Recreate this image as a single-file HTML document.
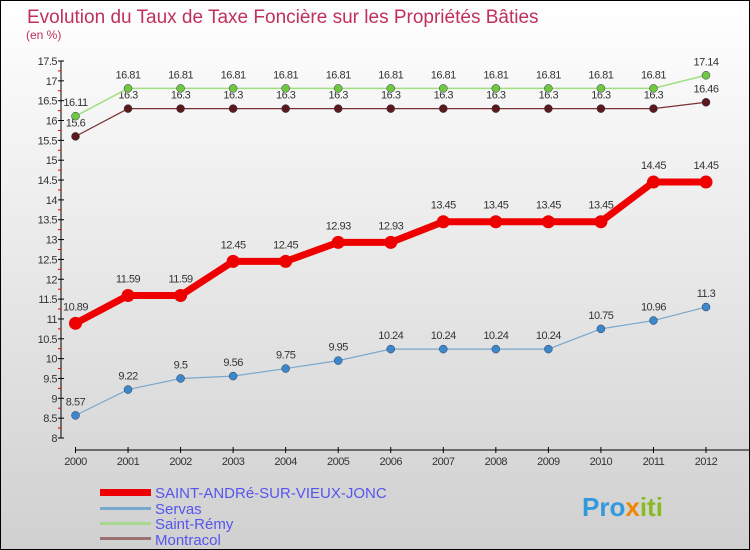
<!DOCTYPE html>
<html><head><meta charset="utf-8"><style>
body{margin:0;}
svg{display:block;font-family:"Liberation Sans",sans-serif;}
</style></head><body>
<svg id="c" width="750" height="550" xmlns="http://www.w3.org/2000/svg">
<defs><linearGradient id="bg" x1="0" y1="0" x2="0" y2="1"><stop offset="0" stop-color="#ffffff"/><stop offset="1" stop-color="#d0d0d0"/></linearGradient></defs>
<rect x="0.5" y="0.5" width="749" height="549" fill="url(#bg)" stroke="#000"/>
<text x="27" y="23" font-size="19" fill="#c0305a">Evolution du Taux de Taxe Foncière sur les Propriétés Bâties</text>
<text x="26" y="39" font-size="12" fill="#c0305a">(en %)</text>
<g id="axes"></g><g id="series"></g>
<g>
<rect x="100" y="489" width="51" height="7" fill="#ee0000"/>
<text x="155" y="498" font-size="15" fill="#5555ee">SAINT-ANDRé-SUR-VIEUX-JONC</text>
<rect x="100" y="507" width="51" height="3" fill="#78a8cc"/>
<text x="155" y="514" font-size="15" fill="#5555ee">Servas</text>
<rect x="100" y="522" width="51" height="3" fill="#a8d890"/>
<text x="155" y="529" font-size="15" fill="#5555ee">Saint-Rémy</text>
<rect x="100" y="537" width="51" height="3" fill="#9a7070"/>
<text x="155" y="545" font-size="15" fill="#5555ee">Montracol</text>
</g>
<text x="582" y="516" font-size="26" font-weight="bold" fill="#3399dd">Pro<tspan fill="#ee8800">x</tspan><tspan fill="#88bb22">iti</tspan></text>
</svg>
<script>
const years=[2000,2001,2002,2003,2004,2005,2006,2007,2008,2009,2010,2011,2012];
const yTicks=[8,8.5,9,9.5,10,10.5,11,11.5,12,12.5,13,13.5,14,14.5,15,15.5,16,16.5,17,17.5];
const saintAndre=[10.89,11.59,11.59,12.45,12.45,12.93,12.93,13.45,13.45,13.45,13.45,14.45,14.45];
const servas=[8.57,9.22,9.5,9.56,9.75,9.95,10.24,10.24,10.24,10.24,10.75,10.96,11.3];
const saintRemy=[16.11,16.81,16.81,16.81,16.81,16.81,16.81,16.81,16.81,16.81,16.81,16.81,17.14];
const montracol=[15.6,16.3,16.3,16.3,16.3,16.3,16.3,16.3,16.3,16.3,16.3,16.3,16.46];
const NS="http://www.w3.org/2000/svg";
const X=i=>75.5+i*(706-75.5)/(years.length-1);
const Y=v=>438-(v-8)*(377/9.5);
function mk(t,a,p){const e=document.createElementNS(NS,t);for(const k in a)e.setAttribute(k,a[k]);p.appendChild(e);return e;}
const ax=document.getElementById('axes');
let e=mk('line',{x1:61,y1:Y(17.5),x2:61,y2:438,stroke:'#000'},ax);


e=mk('line',{x1:75,y1:450,x2:750,y2:450,stroke:'#000'},ax);


yTicks.forEach(v=>{
 mk('line',{x1:58,y1:Y(v),x2:64,y2:Y(v),stroke:'#000'},ax);
 if(v<17.5)mk('line',{x1:58,y1:Y(v+0.25),x2:61,y2:Y(v+0.25),stroke:'#e00'},ax);
 const t=mk('text',{x:57,y:Y(v)+4,'font-size':11,fill:'#333','text-anchor':'end','letter-spacing':'-0.5'},ax);
 t.textContent=v;
 
 
});
years.forEach((y,i)=>{
 mk('line',{x1:X(i),y1:447,x2:X(i),y2:453,stroke:'#000'},ax);
 const t=mk('text',{x:X(i),y:465,'font-size':11,fill:'#333','text-anchor':'middle','letter-spacing':'-0.5'},ax);
 t.textContent=y;
 
 
});
const sg=document.getElementById('series');
function series(name,data,color,w,r,dotFill,labelDy){
 const g=mk('g',{},sg);
 
 
 const pl=mk('polyline',{points:data.map((v,i)=>X(i)+','+Y(v)).join(' '),fill:'none',stroke:color,'stroke-width':w},g);
 
 
 data.forEach((v,i)=>{
  const c=mk('circle',{cx:X(i),cy:Y(v),r:r,fill:dotFill,stroke:dotFill==color?'none':'#335','stroke-width':0.5},g);
  
  
  const t=mk('text',{x:X(i),y:Y(v)+labelDy,'font-size':11,fill:'#333','text-anchor':'middle','letter-spacing':'-0.5'},g);
  t.textContent=v;
  
  
 });
}
series('series-montracol',montracol,'#7a3030',1.2,4,'#5a1a1a',-10);
series('series-saint-remy',saintRemy,'#a0e080',1.5,4,'#70c840',-10);
series('series-servas',servas,'#78a8cc',1.2,4,'#3c88cc',-10);
series('series-saint-andre',saintAndre,'#ee0000',7,6.5,'#ee0000',-13);
</script>
</body></html>
